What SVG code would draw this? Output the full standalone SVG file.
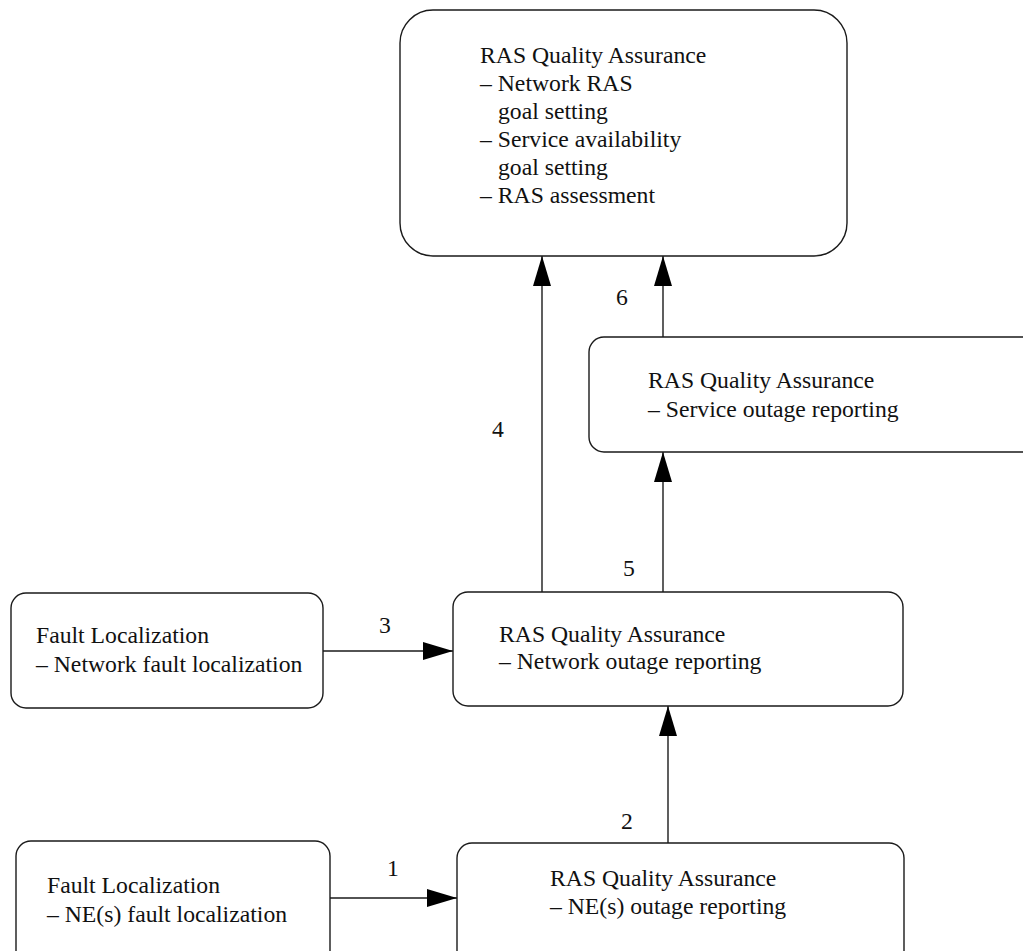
<svg xmlns="http://www.w3.org/2000/svg" width="1023" height="951" viewBox="0 0 1023 951">
<style>
.box{fill:#fff;stroke:#1a1a1a;stroke-width:1.4}
.t{font-family:"Liberation Serif","Times New Roman",serif;font-size:23.7px;fill:#111}
.c{stroke:#1a1a1a;stroke-width:1.4;fill:none}
</style>
<defs>
<marker id="ah" markerUnits="userSpaceOnUse" markerWidth="30" markerHeight="18" refX="30" refY="9" orient="auto">
<path d="M0,0 L30,9 L0,18 z" fill="#000"/>
</marker>
</defs>
<rect width="1023" height="951" fill="#fff"/>
<g id="connectors">
<line class="c" x1="330" y1="898" x2="457" y2="898" marker-end="url(#ah)"/>
<line class="c" x1="668" y1="843" x2="668" y2="706" marker-end="url(#ah)"/>
<line class="c" x1="323" y1="651" x2="453" y2="651" marker-end="url(#ah)"/>
<line class="c" x1="542" y1="592" x2="542" y2="256" marker-end="url(#ah)"/>
<line class="c" x1="663" y1="592" x2="663" y2="452" marker-end="url(#ah)"/>
<line class="c" x1="663" y1="337" x2="663" y2="256" marker-end="url(#ah)"/>
<text class="t" x="387" y="876">1</text>
<text class="t" x="621" y="829">2</text>
<text class="t" x="379" y="633">3</text>
<text class="t" x="492" y="437">4</text>
<text class="t" x="623" y="576">5</text>
<text class="t" x="616" y="305">6</text>
</g>
<g id="top">
<rect class="box" x="400" y="10" width="447" height="246" rx="33"/>
<text class="t" x="480" y="63">RAS Quality Assurance</text>
<text class="t" x="480" y="91">– Network RAS</text>
<text class="t" x="498" y="119">goal setting</text>
<text class="t" x="480" y="147">– Service availability</text>
<text class="t" x="498" y="175">goal setting</text>
<text class="t" x="480" y="203">– RAS assessment</text>
</g>
<g id="service">
<rect class="box" x="589" y="337" width="460" height="115" rx="15"/>
<text class="t" x="648" y="388">RAS Quality Assurance</text>
<text class="t" x="648" y="417">– Service outage reporting</text>
</g>
<g id="network">
<rect class="box" x="453" y="592" width="450" height="114" rx="15"/>
<text class="t" x="499" y="642">RAS Quality Assurance</text>
<text class="t" x="499" y="669">– Network outage reporting</text>
</g>
<g id="faultNet">
<rect class="box" x="11" y="593" width="312" height="115" rx="15"/>
<text class="t" x="36" y="643">Fault Localization</text>
<text class="t" x="36" y="672">– Network fault localization</text>
</g>
<g id="faultNE">
<rect class="box" x="16" y="841" width="314" height="130" rx="15"/>
<text class="t" x="47" y="893">Fault Localization</text>
<text class="t" x="47" y="922">– NE(s) fault localization</text>
</g>
<g id="ne">
<rect class="box" x="457" y="843" width="447" height="130" rx="15"/>
<text class="t" x="550" y="886">RAS Quality Assurance</text>
<text class="t" x="550" y="914">– NE(s) outage reporting</text>
</g>
</svg>
